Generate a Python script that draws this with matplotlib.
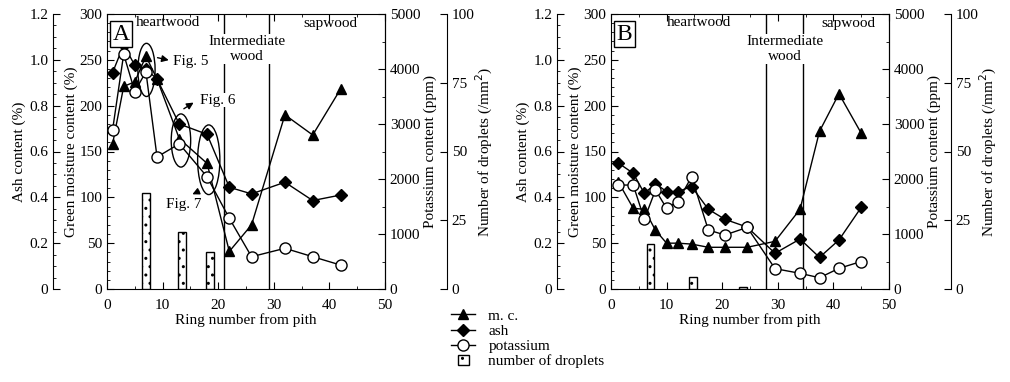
import matplotlib
matplotlib.use("Agg")
import matplotlib.pyplot as plt
import matplotlib.patches as mpatches
from matplotlib.lines import Line2D
from matplotlib.legend_handler import HandlerPatch
from matplotlib.ticker import MultipleLocator

plt.rcParams["font.family"] = ["Liberation Serif", "DejaVu Serif"]
plt.rcParams["font.size"] = 11
plt.rcParams["hatch.linewidth"] = 1.0

# ---- panel A ----
a_ring = [1, 3, 5, 7, 9, 13, 18, 22, 26, 32, 37, 42]
a_mc = [158, 221, 226, 254, 229, 164, 137, 41, 70, 190, 168, 218]
a_ash = [0.944, 1.065, 0.976, 0.96, 0.916, 0.72, 0.675, 0.444, 0.415, 0.466, 0.386, 0.41]
a_k = [2890, 4270, 3590, 3950, 2400, 2640, 2040, 1285, 587, 740, 587, 436]
a_drop_ring = [7, 13.5, 18.5]
a_drop = [35, 20.8, 13.3]
a_bounds = [21.0, 29.2]

# ---- panel B ----
b_ring = [1.3, 4, 6, 8, 10, 12, 14.5, 17.5, 20.5, 24.5, 29.5, 34, 37.5, 41, 45]
b_mc = [117, 88, 87, 64, 50, 50, 49, 45.5, 45.5, 45.5, 52, 87, 172, 213, 170]
b_ash = [0.55, 0.505, 0.417, 0.46, 0.425, 0.425, 0.447, 0.348, 0.304, 0.27, 0.156, 0.218, 0.138, 0.214, 0.356]
b_k = [1890, 1890, 1268, 1800, 1467, 1590, 2040, 1073, 982, 1120, 370, 285, 205, 375, 500]
b_drop_ring = [7.1, 14.8, 23.7]
b_drop = [16.2, 4.5, 0.8]
b_bounds = [27.8, 34.5]


def setup_ticks(axis, major, minor=None):
    axis.yaxis.set_major_locator(MultipleLocator(major))
    if minor:
        axis.yaxis.set_minor_locator(MultipleLocator(minor))
    axis.tick_params(axis="y", which="both", direction="in")
    axis.tick_params(axis="y", which="major", length=5)
    axis.tick_params(axis="y", which="minor", length=2.5)


def panel(ax, ring, mc, ash, k, dring, drop, bounds, letter, txt_pos):
    ax.set_xlim(0, 50)
    ax.set_ylim(0, 300)
    ax.xaxis.set_major_locator(MultipleLocator(10))
    ax.xaxis.set_minor_locator(MultipleLocator(5))
    ax.tick_params(axis="x", which="both", direction="in", top=True)
    ax.tick_params(axis="x", which="major", length=5, pad=7)
    ax.tick_params(axis="x", which="minor", length=2.5)
    setup_ticks(ax, 50, 10)
    ax.set_ylabel("Green moisture content (%)", labelpad=1)
    ax.set_xlabel("Ring number from pith", labelpad=1)

    ax_a = ax.twinx()
    ax_a.spines["left"].set_position(("axes", -0.194))
    ax_a.spines["left"].set_visible(True)
    ax_a.spines["right"].set_visible(False)
    ax_a.yaxis.set_ticks_position("left")
    ax_a.yaxis.set_label_position("left")
    ax_a.set_ylim(0, 1.2)
    setup_ticks(ax_a, 0.2, 0.05)
    ax_a.set_yticks([0, 0.2, 0.4, 0.6, 0.8, 1.0, 1.2])
    ax_a.set_yticklabels(["0", "0.2", "0.4", "0.6", "0.8", "1.0", "1.2"])
    ax_a.set_ylabel("Ash content (%)", labelpad=2)

    ax_k = ax.twinx()
    ax_k.set_ylim(0, 5000)
    setup_ticks(ax_k, 1000, 500)
    ax_k.set_ylabel("Potassium content (ppm)", labelpad=2)

    ax_d = ax.twinx()
    ax_d.spines["right"].set_position(("axes", 1.222))
    ax_d.set_ylim(0, 100)
    setup_ticks(ax_d, 25)
    ax_d.set_ylabel("Number of droplets (/mm$^2$)", labelpad=0)
    for s in ["top", "bottom"]:
        ax_a.spines[s].set_visible(False)
    for s in ["top", "bottom", "left"]:
        ax_d.spines[s].set_visible(False)
        ax_k.spines[s].set_visible(False)

    for b in bounds:
        ax.axvline(b, color="k", lw=1)

    ax_d.bar(dring, drop, width=1.4, facecolor="white", edgecolor="k",
             hatch="..", lw=1, zorder=2)
    ax.plot(ring, mc, "k-", lw=1, marker="^", ms=7, zorder=3)
    ax_a.plot(ring, ash, "k-", lw=1, marker="D", ms=6, zorder=3)
    ax_k.plot(ring, k, "k-", lw=1, marker="o", ms=8, mfc="white", mew=1, zorder=3)

    tr = ax.transData
    ax_d.text(0.02, 0.965, letter, transform=ax.transAxes, fontsize=17,
              ha="left", va="top",
              bbox=dict(boxstyle="square,pad=0.1", fc="white", ec="k", lw=1))
    hx, sx, ix = txt_pos
    ax_d.text(hx, 291, "heartwood", transform=tr, ha="center", va="center")
    ax_d.text(sx, 290, "sapwood", transform=tr, ha="center", va="center")
    ax_d.text(ix, 262, "Intermediate\nwood", transform=tr, ha="center",
              va="center", linespacing=1.25,
              bbox=dict(boxstyle="square,pad=0.05", fc="white", ec="none"))
    return ax_d


fig = plt.figure(figsize=(10.1, 3.82), dpi=100)
axA = fig.add_axes([107 / 1010, 1 - 289 / 382, 278 / 1010, 275 / 382])
axB = fig.add_axes([611 / 1010, 1 - 289 / 382, 278 / 1010, 275 / 382])

dA = panel(axA, a_ring, a_mc, a_ash, a_k, a_drop_ring, a_drop, a_bounds, "A",
           (11, 40.1, 25.2))
dB = panel(axB, b_ring, b_mc, b_ash, b_k, b_drop_ring, b_drop, b_bounds, "B",
           (15.8, 42.7, 31.2))

# figure call-outs in panel A
tr = axA.transData
for (cx, cy, w, h) in [(7.1, 239, 3.1, 58), (13.3, 162, 3.5, 58), (18.3, 141, 4.0, 76)]:
    dA.add_patch(mpatches.Ellipse((cx, cy), w, h, transform=tr, fill=False,
                                  ec="k", lw=1, zorder=4))
arrow = dict(arrowstyle="-|>", color="k", lw=1, mutation_scale=10)
dA.annotate("", xy=(11.6, 249), xytext=(8.6, 253), xycoords=tr, textcoords=tr,
            arrowprops=arrow)
dA.annotate("", xy=(16.0, 205), xytext=(13.4, 195), xycoords=tr, textcoords=tr,
            arrowprops=arrow)
dA.annotate("", xy=(14.9, 102), xytext=(17.0, 108), xycoords=tr, textcoords=tr,
            arrowprops=arrow)
dA.text(11.9, 248, "Fig. 5", transform=tr, ha="left", va="center")
dA.text(16.7, 206, "Fig. 6", transform=tr, ha="left", va="center",
        bbox=dict(boxstyle="square,pad=0.05", fc="white", ec="none"))
dA.text(13.8, 92, "Fig. 7", transform=tr, ha="center", va="center")


def small_box(legend, orig_handle, xdescent, ydescent, width, height, fontsize):
    s = height * 1.0
    return mpatches.Rectangle((-xdescent + width / 2 - s / 2, -ydescent + (height - s) / 2), s, s)


handles = [
    Line2D([], [], color="k", lw=1, marker="^", ms=7),
    Line2D([], [], color="k", lw=1, marker="D", ms=6),
    Line2D([], [], color="k", lw=1, marker="o", ms=8, mfc="white"),
    mpatches.Rectangle((0, 0), 1, 1, fc="white", ec="k", hatch="..", lw=1),
]
labels = ["m. c.", "ash", "potassium", "number of droplets"]
fig.legend(handles, labels, loc="upper left", bbox_to_anchor=(451 / 1010, 1 - 309 / 382),
           frameon=False, handlelength=1.6, handletextpad=0.85, labelspacing=0.1,
           borderpad=0, borderaxespad=0,
           handler_map={mpatches.Rectangle: HandlerPatch(patch_func=small_box)})

fig.savefig("out.png", dpi=100)
